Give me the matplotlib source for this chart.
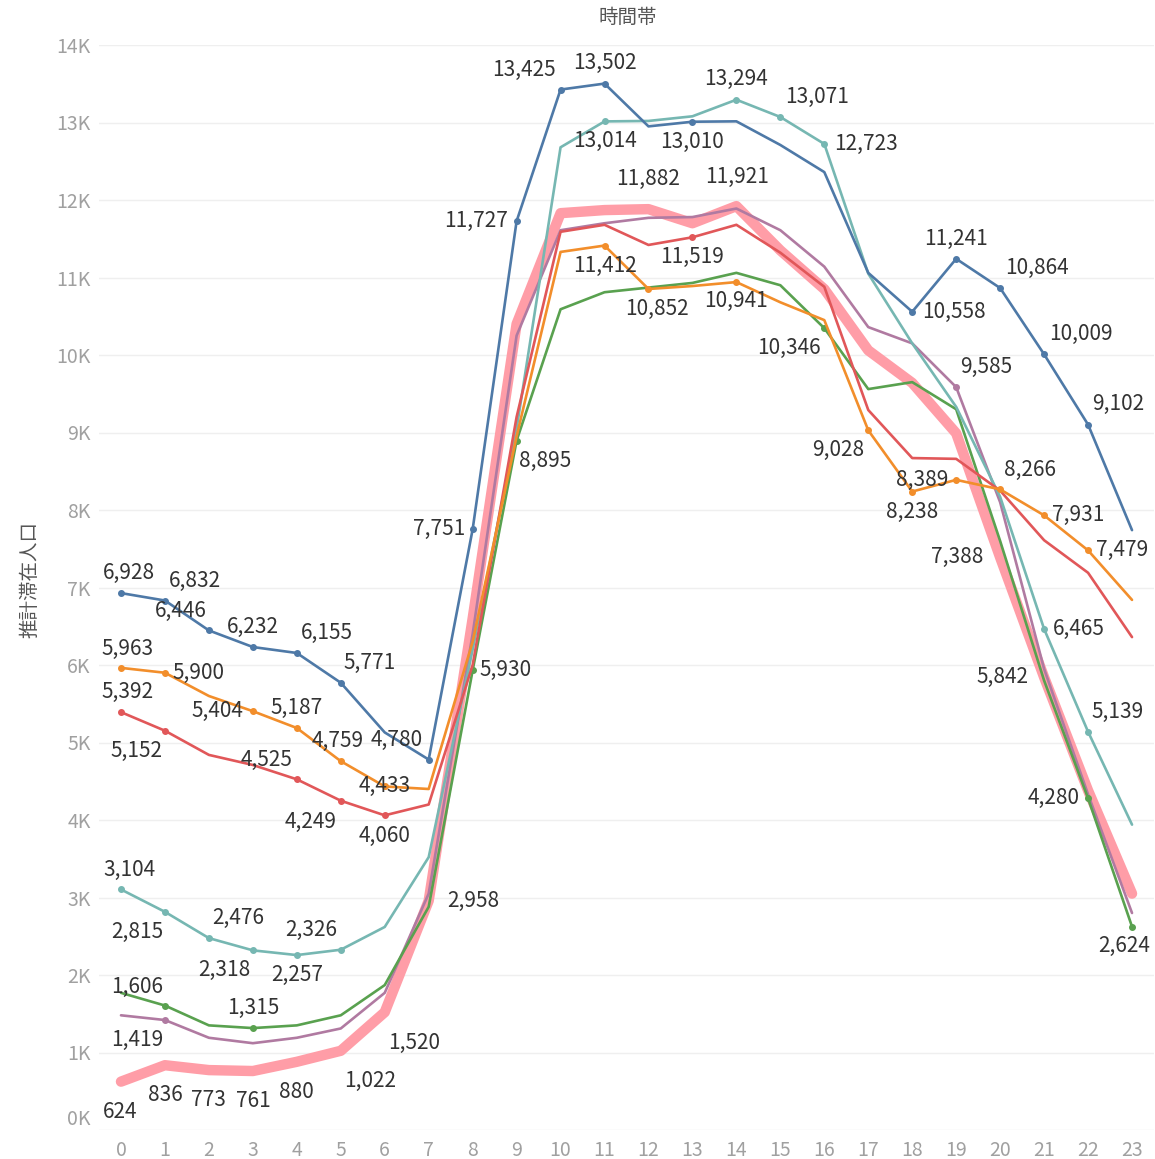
import matplotlib
matplotlib.use("Agg")
import matplotlib.pyplot as plt
from matplotlib.ticker import FuncFormatter

plt.rcParams["font.family"] = ["Noto Sans CJK JP", "DejaVu Sans"]

hours = list(range(24))

blue = [6928, 6832, 6446, 6232, 6155, 5771, 5130, 4780, 7751, 11727, 13425, 13502,
        12950, 13010, 13015, 12710, 12360, 11060, 10558, 11241, 10864, 10009, 9102, 7740]
orange = [5963, 5900, 5600, 5404, 5187, 4759, 4433, 4400, 6300, 8950, 11330, 11412,
          10852, 10890, 10941, 10680, 10450, 9028, 8238, 8389, 8266, 7931, 7479, 6840]
red = [5392, 5152, 4840, 4710, 4525, 4249, 4060, 4200, 6000, 9200, 11590, 11680,
       11420, 11519, 11680, 11320, 10880, 9290, 8670, 8660, 8250, 7610, 7190, 6360]
teal = [3104, 2815, 2476, 2318, 2257, 2326, 2620, 3520, 6200, 9050, 12680, 13014,
        13020, 13080, 13294, 13071, 12723, 11050, 10150, 9330, 8170, 6465, 5139, 3940]
green = [1770, 1606, 1350, 1315, 1350, 1480, 1870, 2880, 5930, 8895, 10590, 10810,
         10870, 10930, 11060, 10900, 10346, 9560, 9650, 9300, 7600, 5800, 4280, 2624]
purple = [1480, 1419, 1190, 1120, 1190, 1310, 1770, 3050, 6400, 10250, 11610, 11700,
          11770, 11780, 11890, 11610, 11140, 10360, 10150, 9585, 8100, 5950, 4330, 2800]
pink = [624, 836, 773, 761, 880, 1022, 1520, 2958, 6600, 10400, 11830, 11870,
        11882, 11700, 11921, 11350, 10850, 10060, 9640, 8990, 7388, 5842, 4380, 3050]

y_ticks = list(range(0, 14001, 1000))

# label offsets in pixels (dx right, dy down) for the labelled hours
blue_labels = {0: (8, -20), 1: (30, -20), 2: (-28, -19), 3: (0, -20), 4: (30, -20),
               5: (29, -20), 7: (-32, -20), 8: (-34, 0), 9: (-41, 0), 10: (-37, -20),
               11: (0, -21), 13: (0, 20), 18: (42, 0), 19: (0, -20), 20: (37, -20),
               21: (37, -20), 22: (30, -21)}
orange_labels = {0: (7, -19), 1: (34, 0), 3: (-35, 0), 4: (0, -20), 5: (-3, -20),
                 6: (0, 0), 11: (0, 20), 12: (8, 20), 14: (0, 19), 17: (-30, 20),
                 18: (0, 20), 19: (-34, 0), 20: (30, -19), 21: (34, 0), 22: (34, 0)}
red_labels = {0: (7, -20), 1: (-28, 20), 4: (-30, -19), 5: (-30, 21), 6: (0, 21),
              13: (0, 20)}
teal_labels = {0: (8, -19), 1: (-28, 20), 2: (29, -20), 3: (-29, 20), 4: (0, 20),
               5: (-30, -20), 11: (0, 20), 14: (0, -21), 15: (37, -20), 16: (42, 0),
               21: (35, 0), 22: (30, -20)}
green_labels = {1: (-28, -19), 3: (0, -20), 8: (33, 0), 9: (29, 20), 16: (-35, 20),
                22: (-34, 0), 23: (-8, 19)}
purple_labels = {1: (-28, 20), 19: (30, -20)}
pink_labels = {0: (-1, 30), 1: (0, 30), 2: (0, 30), 3: (1, 30), 4: (0, 30),
               5: (29, 30), 6: (29, 31), 7: (45, 0), 12: (0, -30), 14: (1, -29),
               20: (-43, 0), 21: (-42, 0)}

series = [
    (pink, "#ff9da7", 7.5, pink_labels, False),
    (purple, "#b07aa1", 1.9, purple_labels, True),
    (green, "#59a14f", 1.9, green_labels, True),
    (teal, "#76b7b2", 1.9, teal_labels, True),
    (red, "#e15759", 1.9, red_labels, True),
    (orange, "#f28e2b", 1.9, orange_labels, True),
    (blue, "#4e79a7", 1.9, blue_labels, True),
]

DPI = 100
px = 72 / DPI

fig = plt.figure(figsize=(11.55, 11.59), dpi=DPI)
ax = fig.add_axes([99 / 1155, 29 / 1159, 1055 / 1155, 1085 / 1159])

for i, (vals, color, lw, labels, dots) in enumerate(series):
    ax.plot(hours, vals, color=color, lw=lw, solid_joinstyle="round",
            solid_capstyle="round", zorder=2 + i)
    if dots:
        idx = sorted(labels)
        ax.plot([hours[k] for k in idx], [vals[k] for k in idx], "o", color=color,
                ms=4, zorder=2 + i)
    for k, (dx, dy) in labels.items():
        ax.annotate(f"{vals[k]:,}", (hours[k], vals[k]), xytext=(dx * px, -dy * px),
                    textcoords="offset points", ha="center", va="center",
                    fontsize=15, color="#333333", zorder=20)

ax.set_xlim(-0.5, 23.5)
ax.set_ylim(0, 14000)
ax.set_xticks(hours)
ax.set_yticks(y_ticks)
ax.yaxis.set_major_formatter(FuncFormatter(lambda v, p: f"{int(v / 1000)}K"))
ax.grid(axis="y", color="#efefef", lw=1)
ax.set_axisbelow(True)
for s in ax.spines.values():
    s.set_visible(False)
ax.tick_params(length=0, labelsize=14, labelcolor="#a0a0a0")
ax.tick_params(axis="x", pad=7)
ax.tick_params(axis="y", pad=6)
# Tableau lifts the bottom tick label inside the pane
ax.yaxis.get_major_ticks()[0].label1.set_verticalalignment("bottom")

fig.text(628 / 1155, 1 - 17 / 1159, "時間帯", ha="center", va="center",
         fontsize=14, color="#555555")
fig.text(30 / 1155, 1 - 580 / 1159, "推計滞在人口", ha="center", va="center",
         rotation=90, fontsize=14, color="#555555")

fig.savefig("out.png", dpi=DPI)
